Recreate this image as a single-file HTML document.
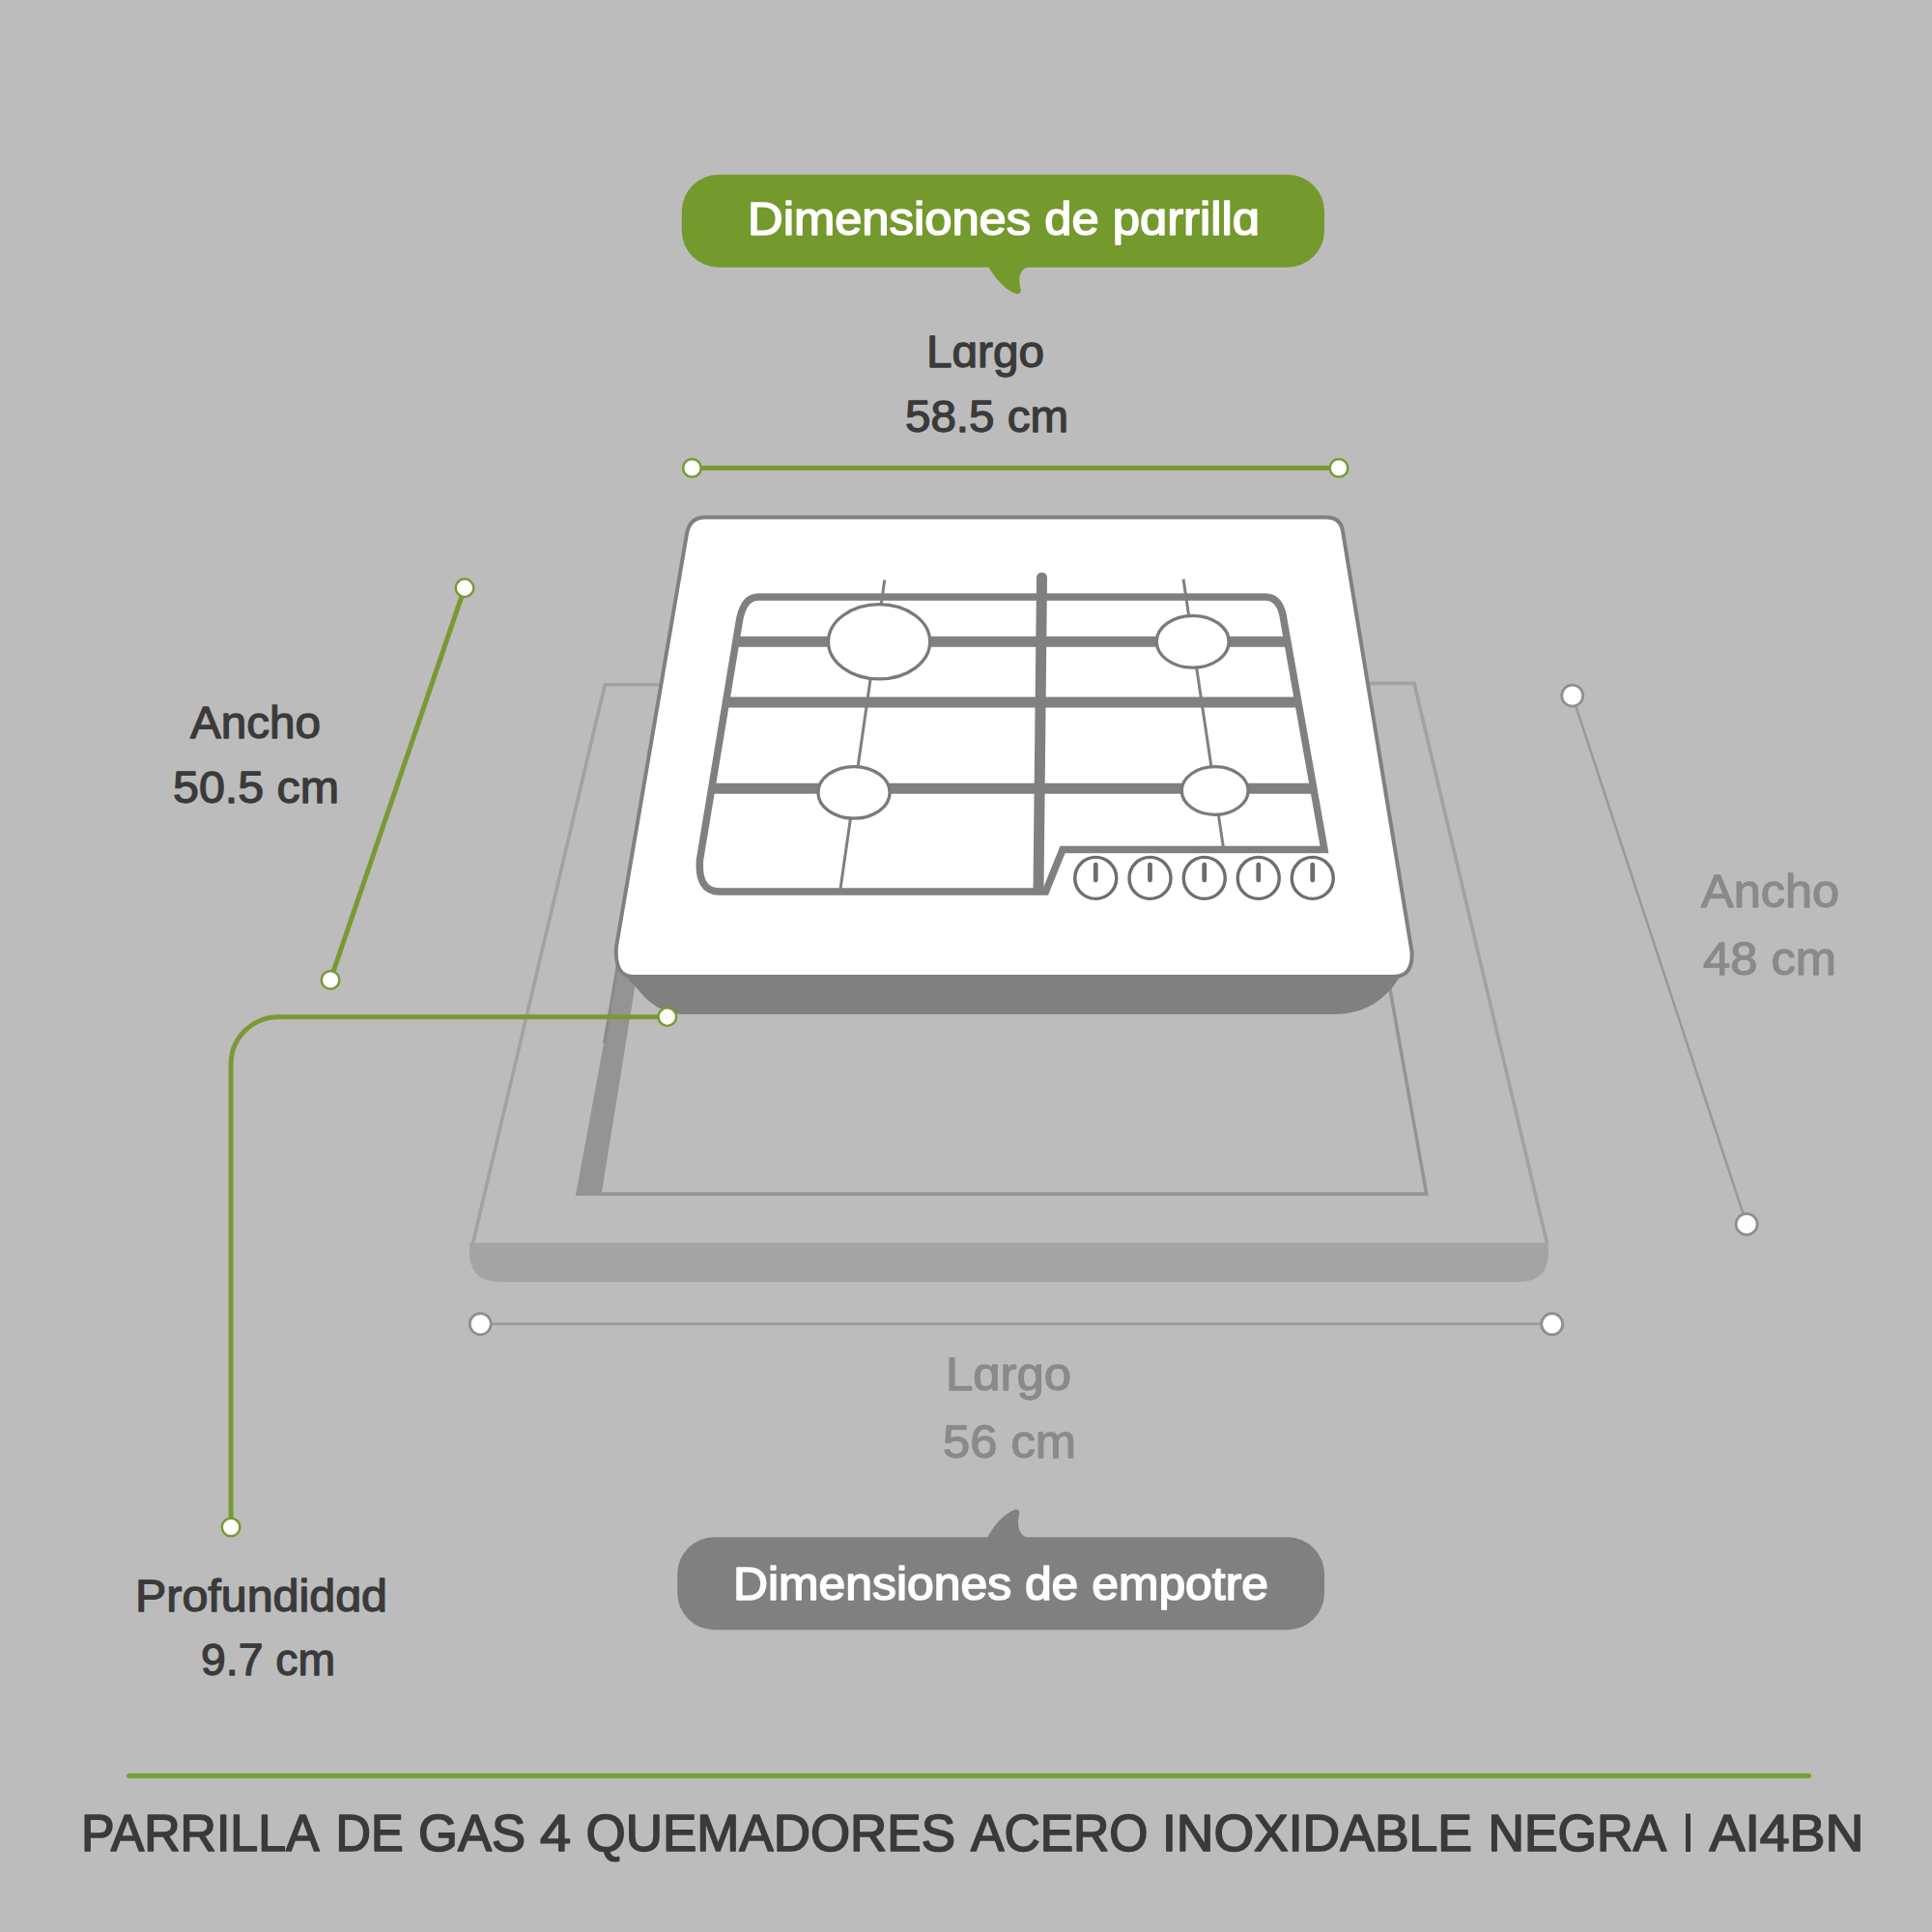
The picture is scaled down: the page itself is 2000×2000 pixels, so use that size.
<!DOCTYPE html>
<html>
<head>
<meta charset="utf-8">
<style>
html,body{margin:0;padding:0;background:#bcbcbc;}
body{width:2000px;height:2000px;overflow:hidden;}
svg{display:block;}
text{font-family:"Liberation Sans",sans-serif;font-weight:normal;stroke-linejoin:round;}
</style>
</head>
<body>
<svg width="2000" height="2000" viewBox="0 0 2000 2000">
<rect x="0" y="0" width="2000" height="2000" fill="#bcbcbc"/>

<!-- ===== Recess (empotre) ===== -->
<!-- bottom slab -->
<path d="M486 1286.5 H1603 V1296 Q1603 1327 1572 1327 H517 Q486 1327 486 1296 Z" fill="#a4a4a4"/>
<!-- outer trapezoid lines -->
<polyline points="489.5,1287 626.2,708.8 1464,707.3 1601.5,1287" fill="none" stroke="#a2a2a2" stroke-width="3.6"/>
<!-- inner left wall band -->
<polygon points="643.5,980 663.9,980 622.9,1234.5 595.9,1237.8" fill="#949494"/>
<!-- inner thin left line -->
<line x1="652" y1="925" x2="625.5" y2="1080" stroke="#8a8a8a" stroke-width="3"/>
<!-- inner bottom + right line -->
<polyline points="596,1236 1476.7,1236 1432,985" fill="none" stroke="#949494" stroke-width="3.5"/>

<!-- ===== Cooktop ===== -->
<!-- dark slab under -->
<path d="M636 985 H1462 L1449 1011 C1434 1036 1412 1050 1380 1050 H708 C685 1050 670 1036 661 1025 L641.5 1004 L637.5 994 L637 985 Z" fill="#808080"/>
<!-- white top -->
<path d="M730 535.5 H1372.5 Q1388 535.5 1390 550 L1461.5 985 Q1463 1011 1443 1011 H655 Q636 1011 638 980 L711 552.5 Q714 535.5 730 535.5 Z" fill="#ffffff" stroke="#808080" stroke-width="4"/>

<!-- thin perspective lines -->
<line x1="915.75" y1="600.5" x2="870" y2="920" stroke="#808080" stroke-width="3"/>
<line x1="1225" y1="599.5" x2="1266.25" y2="876.25" stroke="#808080" stroke-width="3"/>

<!-- grate bars -->
<g stroke="#808080" stroke-width="11" fill="none">
  <line x1="761.8" y1="664.25" x2="1332.8" y2="664.25"/>
  <line x1="751.4" y1="727" x2="1344" y2="727"/>
  <line x1="736.7" y1="816.25" x2="1359.8" y2="816.25"/>
  <path d="M1078.5 598 L1075 920"/>
</g>
<circle cx="1078.5" cy="598" r="5.5" fill="#808080"/>
<!-- grate outline -->
<path d="M785 618 H1310 Q1326 618 1329 642.5 L1371 879.5 H1100 L1082.5 923 H745 Q722 923 724.5 890 L765 645 Q769 618 785 618 Z" fill="none" stroke="#808080" stroke-width="7.5" stroke-linejoin="miter"/>

<!-- burners -->
<g fill="#ffffff" stroke="#7a7a7a" stroke-width="3.3">
  <ellipse cx="910.1" cy="664.3" rx="52.6" ry="38.6"/>
  <ellipse cx="1234.7" cy="664.2" rx="37.4" ry="26.9"/>
  <ellipse cx="884" cy="820.4" rx="37.1" ry="26.8"/>
  <ellipse cx="1257.7" cy="818.5" rx="34.4" ry="24.8"/>
</g>

<!-- knobs -->
<g fill="#ffffff" stroke="#6e6e72" stroke-width="3.4">
  <circle cx="1134.25" cy="908.9" r="21.5"/>
  <circle cx="1190.5" cy="908.9" r="21.5"/>
  <circle cx="1246.75" cy="908.9" r="21.5"/>
  <circle cx="1302.75" cy="908.9" r="21.5"/>
  <circle cx="1358.75" cy="908.9" r="21.5"/>
</g>
<g stroke="#6b6b70" stroke-width="4.8" stroke-linecap="round">
  <line x1="1134.25" y1="895.2" x2="1134.25" y2="911"/>
  <line x1="1190.5" y1="895.2" x2="1190.5" y2="911"/>
  <line x1="1246.75" y1="895.2" x2="1246.75" y2="911"/>
  <line x1="1302.75" y1="895.2" x2="1302.75" y2="911"/>
  <line x1="1358.75" y1="895.2" x2="1358.75" y2="911"/>
</g>

<!-- ===== Dimension lines ===== -->
<g stroke="#789a33" stroke-width="5" fill="none">
  <line x1="716.4" y1="484.5" x2="1386" y2="484.5"/>
  <line x1="481" y1="608.6" x2="342.1" y2="1014.5"/>
  <path d="M690.8 1052.7 H288.1 A49 49 0 0 0 239.1 1101.7 V1581"/>
</g>
<g fill="#ffffff" stroke="#789a33" stroke-width="2.5">
  <circle cx="716.4" cy="484.5" r="9.3"/>
  <circle cx="1386" cy="484.5" r="9.3"/>
  <circle cx="481" cy="608.6" r="9.3"/>
  <circle cx="342.1" cy="1014.5" r="9.3"/>
  <circle cx="690.8" cy="1052.6" r="9.3"/>
  <circle cx="239.1" cy="1581" r="9.3"/>
</g>
<g stroke="#999999" stroke-width="2.5" fill="none">
  <line x1="1627.7" y1="720.1" x2="1808.1" y2="1267.3"/>
  <line x1="497.3" y1="1370.5" x2="1606.7" y2="1370.5"/>
</g>
<g fill="#ffffff" stroke="#8f8f8f" stroke-width="2.8">
  <circle cx="1627.7" cy="720.1" r="11"/>
  <circle cx="1808.1" cy="1267.3" r="11"/>
  <circle cx="497.3" cy="1370.6" r="11"/>
  <circle cx="1606.7" cy="1370.7" r="11"/>
</g>

<!-- ===== Bubbles ===== -->
<rect x="705.75" y="180.75" width="665.25" height="96" rx="38" ry="38" fill="#74992d"/>
<path d="M1023 276 C1031 289 1040 299 1050 303.6 C1055 305.6 1057.5 303 1056.6 299 C1055 293 1054.6 287 1056.8 282.5 C1058.5 279 1061 277 1065 276 Z" fill="#74992d"/>
<rect x="701.25" y="1591.25" width="669.75" height="96" rx="38" ry="38" fill="#808080"/>
<path d="M1022 1592 C1029 1578 1040 1567 1050 1563 C1054 1561.5 1056 1564 1055 1568 C1053.5 1574 1053.5 1582 1057 1587 C1059 1590 1061 1591 1065 1592 Z" fill="#808080"/>

<line x1="133.5" y1="1838.25" x2="1872.5" y2="1838.25" stroke="#77a02b" stroke-width="5" stroke-linecap="round"/>
<!--TEXT-START-->
<text x="1039.00" y="243" font-size="48" fill="#ffffff" stroke="#ffffff" stroke-width="1.6" text-anchor="middle" textLength="530.00" lengthAdjust="spacingAndGlyphs">Dimensiones de pɑrrillɑ</text>
<text x="1036.00" y="1655.5" font-size="48" fill="#ffffff" stroke="#ffffff" stroke-width="1.6" text-anchor="middle" textLength="554.00" lengthAdjust="spacingAndGlyphs">Dimensiones de empotre</text>
<text x="1020.00" y="380.2" font-size="46.5" fill="#3a3a3a" stroke="#3a3a3a" stroke-width="1.3" text-anchor="middle" textLength="122.00" lengthAdjust="spacingAndGlyphs">Lɑrgo</text>
<text x="1021.50" y="446.7" font-size="46.5" fill="#3a3a3a" stroke="#3a3a3a" stroke-width="1.3" text-anchor="middle" textLength="169.00" lengthAdjust="spacingAndGlyphs">58.5 cm</text>
<text x="264.50" y="763.9" font-size="46.5" fill="#3a3a3a" stroke="#3a3a3a" stroke-width="1.3" text-anchor="middle" textLength="135.00" lengthAdjust="spacingAndGlyphs">Ancho</text>
<text x="265.00" y="831.1" font-size="46.5" fill="#3a3a3a" stroke="#3a3a3a" stroke-width="1.3" text-anchor="middle" textLength="172.00" lengthAdjust="spacingAndGlyphs">50.5 cm</text>
<text x="1832.50" y="938.6" font-size="48.3" fill="#8a8a8a" stroke="#8a8a8a" stroke-width="1.3" text-anchor="middle" textLength="143.00" lengthAdjust="spacingAndGlyphs">Ancho</text>
<text x="1832.00" y="1009.1" font-size="48.3" fill="#8a8a8a" stroke="#8a8a8a" stroke-width="1.3" text-anchor="middle" textLength="138.00" lengthAdjust="spacingAndGlyphs">48 cm</text>
<text x="1044.00" y="1438.5" font-size="48" fill="#8a8a8a" stroke="#8a8a8a" stroke-width="1.3" text-anchor="middle" textLength="130.00" lengthAdjust="spacingAndGlyphs">Lɑrgo</text>
<text x="1045.00" y="1508.9" font-size="48" fill="#8a8a8a" stroke="#8a8a8a" stroke-width="1.3" text-anchor="middle" textLength="138.00" lengthAdjust="spacingAndGlyphs">56 cm</text>
<text x="270.50" y="1667.9" font-size="46" fill="#3a3a3a" stroke="#3a3a3a" stroke-width="1.3" text-anchor="middle" textLength="261.00" lengthAdjust="spacingAndGlyphs">Profundidɑd</text>
<text x="277.50" y="1734.3" font-size="46" fill="#3a3a3a" stroke="#3a3a3a" stroke-width="1.3" text-anchor="middle" textLength="139.00" lengthAdjust="spacingAndGlyphs">9.7 cm</text>
<text x="207.25" y="1916.25" font-size="54.5" fill="#3a3a3a" stroke="#3a3a3a" stroke-width="1.7" text-anchor="middle" textLength="246.50" lengthAdjust="spacingAndGlyphs">PARRILLA</text>
<text x="382.50" y="1916.25" font-size="54.5" fill="#3a3a3a" stroke="#3a3a3a" stroke-width="1.7" text-anchor="middle" textLength="70.00" lengthAdjust="spacingAndGlyphs">DE</text>
<text x="488.50" y="1916.25" font-size="54.5" fill="#3a3a3a" stroke="#3a3a3a" stroke-width="1.7" text-anchor="middle" textLength="111.00" lengthAdjust="spacingAndGlyphs">GAS</text>
<text x="575.00" y="1916.25" font-size="54.5" fill="#3a3a3a" stroke="#3a3a3a" stroke-width="1.7" text-anchor="middle" textLength="32.00" lengthAdjust="spacingAndGlyphs">4</text>
<text x="797.75" y="1916.25" font-size="54.5" fill="#3a3a3a" stroke="#3a3a3a" stroke-width="1.7" text-anchor="middle" textLength="382.50" lengthAdjust="spacingAndGlyphs">QUEMADORES</text>
<text x="1096.75" y="1916.25" font-size="54.5" fill="#3a3a3a" stroke="#3a3a3a" stroke-width="1.7" text-anchor="middle" textLength="183.50" lengthAdjust="spacingAndGlyphs">ACERO</text>
<text x="1363.50" y="1916.25" font-size="54.5" fill="#3a3a3a" stroke="#3a3a3a" stroke-width="1.7" text-anchor="middle" textLength="321.00" lengthAdjust="spacingAndGlyphs">INOXIDABLE</text>
<text x="1632.75" y="1916.25" font-size="54.5" fill="#3a3a3a" stroke="#3a3a3a" stroke-width="1.7" text-anchor="middle" textLength="184.50" lengthAdjust="spacingAndGlyphs">NEGRA</text>
<text x="1849.50" y="1916.25" font-size="54.5" fill="#3a3a3a" stroke="#3a3a3a" stroke-width="1.7" text-anchor="middle" textLength="160.00" lengthAdjust="spacingAndGlyphs">AI4BN</text>
<rect x="1745" y="1877.5" width="5" height="39.5" fill="#3a3a3a"/>
<!--TEXT-END-->
</svg>
</body>
</html>
